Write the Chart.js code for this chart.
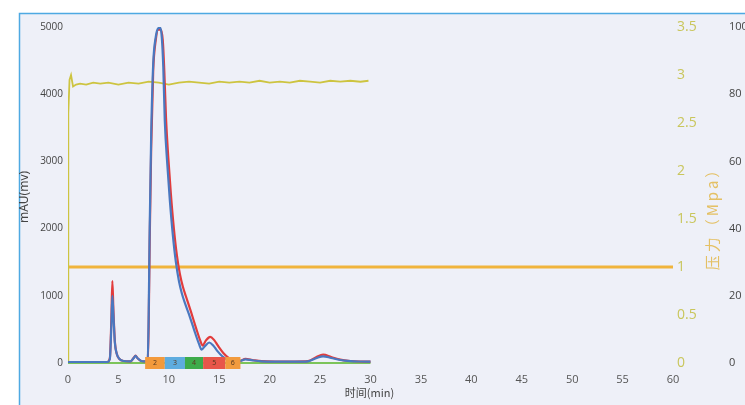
<!DOCTYPE html>
<html>
<head>
<meta charset="utf-8">
<script src="https://cdn.jsdelivr.net/npm/chart.js@4.4.1/dist/chart.umd.min.js"></script>
<style>
  html, body { margin: 0; padding: 0; overflow: hidden; background: #fff; }
  #wrap { width: 760px; height: 405px; position: relative; }
</style>
</head>
<body>
<div id="wrap"><canvas id="myChart"></canvas></div>
<script>
// chromatogram traces (time in min, signal in mAU)
let blueTime = [0, 3.9, 4.15, 4.3, 4.4, 4.5, 4.65, 4.85, 5.1, 5.5, 6.2, 6.5, 6.7, 6.9, 7.2, 7.6, 7.9, 8.0, 8.1, 8.25,
    8.45, 8.7, 8.95, 9.15, 9.3, 9.45, 9.6, 9.85, 10.1, 10.4, 10.7, 11.0, 11.3, 11.6, 12.1, 12.6, 13.0, 13.25, 13.6, 14.0,
    14.4, 14.8, 15.3, 15.8, 16.3, 17.0, 17.6, 18.3, 19.2, 20.5, 22.5, 23.8, 24.6, 25.3, 26.1, 27.0, 28.0, 29.0, 30.0]
let blueMAU = [15, 15, 60, 550, 1000, 720, 300, 130, 60, 30, 25, 70, 105, 70, 35, 25, 30, 700, 2000, 3400,
    4450, 4850, 4980, 4990, 4850, 4400, 3600, 2950, 2420, 1900, 1500, 1220, 1030, 890, 680, 450, 280, 200, 255, 305,
    260, 180, 100, 50, 30, 30, 55, 40, 25, 20, 20, 25, 70, 100, 75, 45, 28, 22, 20]

let redTime = [0, 3.9, 4.15, 4.3, 4.4, 4.5, 4.65, 4.85, 5.1, 5.5, 6.2, 6.5, 6.7, 6.9, 7.2, 7.6, 7.9, 8.0, 8.1, 8.25,
    8.45, 8.7, 8.95, 9.2, 9.4, 9.55, 9.72, 9.95, 10.2, 10.5, 10.8, 11.1, 11.4, 11.7, 12.2, 12.7, 13.1, 13.35, 13.7, 14.1,
    14.5, 14.9, 15.4, 15.9, 16.4, 17.0, 17.6, 18.3, 19.2, 20.5, 22.5, 23.8, 24.6, 25.3, 26.1, 27.0, 28.0, 29.0, 30.0]
let redMAU = [15, 15, 70, 650, 1220, 800, 320, 130, 60, 30, 25, 75, 110, 70, 35, 25, 30, 550, 1800, 3200,
    4350, 4800, 4960, 4960, 4800, 4350, 3650, 3050, 2520, 2000, 1600, 1320, 1130, 990, 760, 520, 340, 260, 340, 390,
    340, 250, 150, 80, 40, 32, 60, 45, 28, 22, 22, 28, 85, 125, 90, 50, 30, 22, 20]

// system pressure (MPa)
let pressureTime = [0, 0.03, 0.15, 0.3, 0.5, 0.8, 1.2, 1.8, 2.5, 3.2, 4, 5, 6, 7, 8, 9, 10, 11, 12, 13,
    14, 15, 16, 17, 18, 19, 20, 21, 22, 23, 24, 25, 26, 27, 28, 29, 29.8]
let pressureMPa = [0, 2.6, 2.95, 3.0, 2.88, 2.9, 2.91, 2.9, 2.92, 2.91, 2.92, 2.9, 2.92, 2.91, 2.93, 2.92, 2.9, 2.92, 2.93, 2.92,
    2.91, 2.93, 2.92, 2.93, 2.92, 2.94, 2.92, 2.93, 2.92, 2.94, 2.93, 2.92, 2.94, 2.93, 2.94, 2.93, 2.94]

// pressure limit line and gradient (%) line
let limitTime = [0, 60]
let limitMPa = [1, 1]
let gradientTime = [0, 30]
let gradientPct = [0, 0]

// collected fractions
let fractionStart = [7.65, 9.6, 11.6, 13.4, 15.6]
let fractionEnd = [9.6, 11.6, 13.4, 15.6, 17.1]
let fractionLabel = ['2', '3', '4', '5', '6']
let fractionColor = ['#f39a3c', '#5eacdf', '#3dab4b', '#e8564a', '#f29b3e']

function toPoints(xs, ys) {
    return xs.map((x, i) => ({ x: x, y: ys[i] }))
}

// light page with blue frame lines
const framePlugin = {
    id: 'frame',
    beforeDraw(chart) {
        let c = chart.ctx
        c.save()
        c.fillStyle = '#ffffff'
        c.fillRect(0, 0, chart.width, chart.height)
        c.fillStyle = '#eef0f8'
        c.fillRect(20, 13, chart.width - 20, chart.height - 13)
        c.strokeStyle = '#4ea9e2'
        c.lineWidth = 1.5
        c.beginPath()
        c.moveTo(19.5, chart.height)
        c.lineTo(19.5, 13.5)
        c.lineTo(chart.width, 13.5)
        c.stroke()
        c.restore()
    }
}

// fraction boxes on the baseline + axis titles
const fractionPlugin = {
    id: 'fractions',
    afterDatasetsDraw(chart) {
        let c = chart.ctx
        let xs = chart.scales.x
        let y0 = chart.scales.y.getPixelForValue(0)
        c.save()
        for (let i = 0; i < fractionStart.length; i++) {
            let x1 = xs.getPixelForValue(fractionStart[i])
            let x2 = xs.getPixelForValue(fractionEnd[i])
            c.fillStyle = fractionColor[i]
            c.fillRect(x1, y0 - 6, x2 - x1, 12)
            c.fillStyle = '#5a3a20'
            c.font = '7px "Noto Sans"'
            c.textAlign = 'center'
            c.textBaseline = 'middle'
            c.fillText(fractionLabel[i], (x1 + x2) / 2, y0)
        }
        c.restore()
    },
    afterDraw(chart) {
        let c = chart.ctx
        c.save()
        c.textAlign = 'center'
        c.textBaseline = 'middle'

        c.fillStyle = '#444'
        c.font = '11px "Noto Sans CJK SC"'
        c.fillText('时间(min)', chart.scales.x.getPixelForValue(29.9), 393)

        c.translate(25, 197)
        c.rotate(-Math.PI / 2)
        c.font = '12px "Noto Sans"'
        c.fillText('mAU(mv)', 0, 0)
        c.restore()

        c.save()
        c.textAlign = 'center'
        c.textBaseline = 'middle'
        c.translate(712, 215)
        c.rotate(-Math.PI / 2)
        c.fillStyle = '#e4c064'
        c.font = '15px "Noto Sans CJK SC"'
        c.letterSpacing = '3px'
        c.fillText('压力（Mpa）', 0, 0)
        c.restore()
    }
}

function plainTick(value) {
    return String(value)
}

let ctx = document.getElementById('myChart').getContext('2d')
let myChart = new Chart(ctx, {
    type: 'line',
    data: {
        datasets: [
            {
                data: toPoints(blueTime, blueMAU),
                yAxisID: 'y',
                borderColor: '#4a78c0',
                borderWidth: 2.2,
                cubicInterpolationMode: 'monotone',
                order: 0
            },
            {
                data: toPoints(redTime, redMAU),
                yAxisID: 'y',
                borderColor: '#e23c3c',
                borderWidth: 2.2,
                cubicInterpolationMode: 'monotone',
                order: 1
            },
            {
                data: toPoints(pressureTime, pressureMPa),
                yAxisID: 'yP',
                borderColor: '#cdc440',
                borderWidth: 1.8,
                order: 2
            },
            {
                data: toPoints(limitTime, limitMPa),
                yAxisID: 'yP',
                borderColor: '#f0b43c',
                borderWidth: 3,
                order: 3
            },
            {
                data: toPoints(gradientTime, gradientPct),
                yAxisID: 'yPct',
                borderColor: '#7cc45a',
                borderWidth: 2,
                clip: false,
                order: 4
            }
        ]
    },
    options: {
        responsive: true,
        maintainAspectRatio: false,
        animation: false,
        events: [],
        elements: { point: { radius: 0 } },
        layout: { padding: { left: 20, top: 27, right: 0, bottom: 0 } },
        plugins: { legend: { display: false }, tooltip: { enabled: false } },
        scales: {
            x: {
                type: 'linear',
                min: 0,
                max: 60,
                grid: { display: false, drawTicks: false },
                border: { display: false },
                ticks: { stepSize: 5, padding: 10, color: '#555', font: { size: 11, family: '"Open Sans"' }, maxRotation: 0, callback: plainTick },
                afterFit(scale) { scale.height = 42 }
            },
            y: {
                position: 'left',
                min: 0,
                max: 5000,
                grid: { display: false, drawTicks: false },
                border: { display: false },
                ticks: { stepSize: 1000, padding: 5, color: '#444', font: { size: 10, family: '"Open Sans"' }, callback: plainTick },
                afterFit(scale) { scale.width = 48 }
            },
            yP: {
                position: 'right',
                weight: 0,
                min: 0,
                max: 3.5,
                grid: { display: false, drawTicks: false },
                border: { display: false },
                ticks: { stepSize: 0.5, padding: 4, color: '#c9c65c', font: { size: 14, family: '"Open Sans"' }, callback: plainTick },
                afterFit(scale) { scale.width = 54 }
            },
            yPct: {
                position: 'right',
                weight: 1,
                min: 0,
                max: 100,
                grid: { display: false, drawTicks: false },
                border: { display: false },
                ticks: { stepSize: 20, padding: 2, color: '#444', font: { size: 11, family: '"Open Sans"' }, callback: plainTick },
                afterFit(scale) { scale.width = 33 }
            }
        }
    },
    plugins: [framePlugin, fractionPlugin]
})
</script>
</body>
</html>
